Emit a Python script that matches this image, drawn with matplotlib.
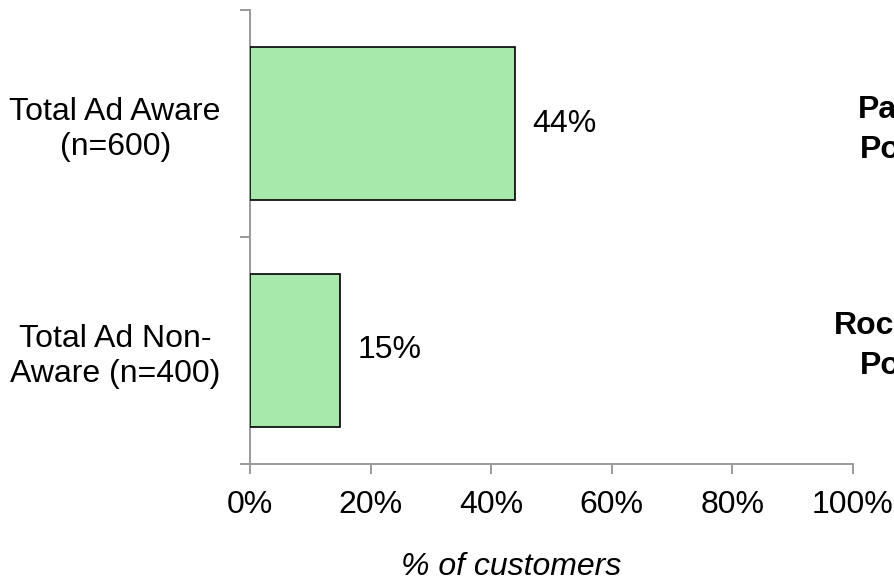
import matplotlib
matplotlib.use("Agg")
import matplotlib.pyplot as plt
from matplotlib.ticker import FixedLocator, PercentFormatter

plt.rcParams['font.family'] = ['Liberation Sans', 'DejaVu Sans']

# Data
categories = ["Total Ad Aware\n(n=600)", "Total Ad Non-\nAware (n=400)"]
shares = [44, 15]
x_ticks = [0, 20, 40, 60, 80, 100]
side_notes = [("Pa", "Po"), ("Roc", "Po")]

FS = 23
W, H, DPI = 895, 583, 100
fig = plt.figure(figsize=(W / DPI, H / DPI), dpi=DPI)
ax = fig.add_axes([250 / W, 1 - 464 / H, (853 - 250) / W, (464 - 10) / H])

ypos = list(range(len(categories)))
bars = ax.barh(ypos, shares, height=0.67, color="#a6e9aa",
               edgecolor="black", linewidth=1.2, zorder=3)

ax.set_xlim(0, 100)
ax.set_ylim(len(categories) - 0.5, -0.5)

# value labels beside each bar
for y, v in zip(ypos, shares):
    ax.annotate(f"{v}%", xy=(v, y), xytext=(12.5, 0), textcoords="offset points",
                ha="left", va="center", fontsize=FS)

# axis styling
axis_grey = "#9a9a9a"
for side in ("top", "right"):
    ax.spines[side].set_visible(False)
for side in ("left", "bottom"):
    ax.spines[side].set_color(axis_grey)
    ax.spines[side].set_linewidth(1.4)

ax.xaxis.set_major_locator(FixedLocator(x_ticks))
ax.xaxis.set_major_formatter(PercentFormatter(decimals=0))
ax.tick_params(axis="x", direction="out", length=7, width=1.4, color=axis_grey,
               labelsize=FS, pad=12)

# category labels centred on bars, tick marks on band boundaries
ax.set_yticks(ypos)
ax.set_yticklabels(categories, fontsize=FS, multialignment="center")
ax.tick_params(axis="y", which="major", length=0, pad=21)
ax.yaxis.set_minor_locator(FixedLocator([i - 0.5 for i in range(len(categories) + 1)]))
ax.tick_params(axis="y", which="minor", direction="out", length=7, width=1.4,
               color=axis_grey)

fig.text(511 / W, 1 - 567 / H, "% of customers", ha="center", va="center",
         fontsize=FS, style="italic")

# notes at the right edge
note_rows = [(858, 860, 1 - 130 / H), (834, 860, 1 - 346 / H)]
for (l1, l2), (x1, x2, yc) in zip(side_notes, note_rows):
    fig.text(x1 / W, yc + 20 / H, l1, ha="left", va="center",
             fontsize=FS, fontweight="bold")
    fig.text(x2 / W, yc - 20 / H, l2, ha="left", va="center",
             fontsize=FS, fontweight="bold")

fig.savefig("out.png", dpi=DPI)
